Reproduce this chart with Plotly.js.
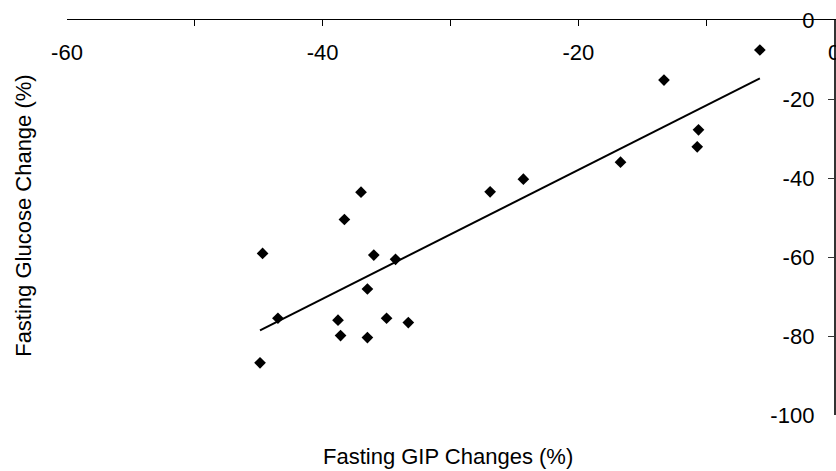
<!DOCTYPE html>
<html>
<head>
<meta charset="utf-8">
<script src="https://cdn.plot.ly/plotly-3.0.1.min.js"></script>
<style>
html,body{margin:0;padding:0;background:#fff;}
#chart{width:836px;height:471px;}
</style>
</head>
<body>
<div id="chart"></div>
<script>
// Data
const gipChange = [-5.8, -13.3, -10.6, -10.7, -16.7, -37.0, -38.3, -26.9, -24.3, -36.0,
                   -34.3, -36.5, -38.8, -35.0, -33.3, -38.6, -36.5, -43.5, -44.7, -44.9];
const glucoseChange = [-7.6, -15.2, -27.8, -32.1, -36.0, -43.6, -50.5, -43.5, -40.3, -59.5,
                       -60.6, -68.1, -76.0, -75.5, -76.6, -79.9, -80.4, -75.5, -59.1, -86.8];
const xTickVals = [-60, -40, -20, 0];
const xTickText = ['-60', '-40', '-20', '0'];
const yTickVals = [0, -20, -40, -60, -80, -100];
const yTickText = ['0', '-20', '-40', '-60', '-80', '-100'];
const xTitle = 'Fasting GIP Changes (%)';
const yTitle = 'Fasting Glucose Change (%)';

// Least-squares trend line through the data
const n = gipChange.length;
const mx = gipChange.reduce((a, b) => a + b, 0) / n;
const my = glucoseChange.reduce((a, b) => a + b, 0) / n;
let sxy = 0, sxx = 0;
for (let i = 0; i < n; i++) {
  sxy += (gipChange[i] - mx) * (glucoseChange[i] - my);
  sxx += (gipChange[i] - mx) * (gipChange[i] - mx);
}
const slope = sxy / sxx;
const intercept = my - slope * mx;
const xMin = Math.min(...gipChange), xMax = Math.max(...gipChange);
const trendX = [xMin, xMax];
const trendY = trendX.map(v => intercept + slope * v);

const FONT = 'Arial, "Liberation Sans", sans-serif';

const traces = [
  {
    x: trendX, y: trendY, type: 'scatter', mode: 'lines',
    line: {color: '#000', width: 2}, hoverinfo: 'skip', showlegend: false
  },
  {
    x: gipChange, y: glucoseChange, type: 'scatter', mode: 'markers',
    marker: {symbol: 'diamond', size: 9, color: '#000'}, showlegend: false
  }
];

const layout = {
  width: 836, height: 471,
  margin: {l: 67, r: 2, t: 20, b: 56},
  paper_bgcolor: '#fff', plot_bgcolor: '#fff',
  font: {family: FONT, size: 22, color: '#000'},
  showlegend: false,
  xaxis: {
    side: 'top', range: [-60, 0], autorange: false,
    tickmode: 'array', tickvals: xTickVals, ticktext: xTickText,
    ticks: 'inside', ticklen: 6, tickwidth: 1, tickcolor: '#000',
    minor: {dtick: 10, tick0: 0, ticks: 'inside', ticklen: 6, tickcolor: '#000', tickwidth: 1},
    ticklabelposition: 'inside', ticklabeloverflow: 'allow', ticklabelstandoff: 20,
    showline: true, linecolor: '#000', linewidth: 1.5, mirror: false,
    showgrid: false, zeroline: false,
    tickfont: {family: FONT, size: 22, color: '#000'}
  },
  yaxis: {
    side: 'right', range: [-100, 0], autorange: false,
    tickmode: 'array', tickvals: yTickVals, ticktext: yTickText,
    ticks: 'inside', ticklen: 6, tickwidth: 1, tickcolor: '#333',
    ticklabelposition: 'inside', ticklabeloverflow: 'allow', ticklabelstandoff: 15,
    showline: true, linecolor: '#333', linewidth: 1.5, mirror: false,
    showgrid: false, zeroline: false,
    tickfont: {family: FONT, size: 22, color: '#000'}
  },
  annotations: [
    {
      text: xTitle, xref: 'paper', yref: 'paper', x: 0.497, y: -0.104,
      xanchor: 'center', yanchor: 'middle', showarrow: false,
      font: {family: FONT, size: 22, color: '#000'}
    },
    {
      text: yTitle, xref: 'paper', yref: 'paper', x: -0.057, y: 0.505,
      xanchor: 'center', yanchor: 'middle', textangle: -90, showarrow: false,
      font: {family: FONT, size: 22, color: '#000'}
    }
  ]
};

Plotly.newPlot('chart', traces, layout, {staticPlot: true, displayModeBar: false});
</script>
</body>
</html>
